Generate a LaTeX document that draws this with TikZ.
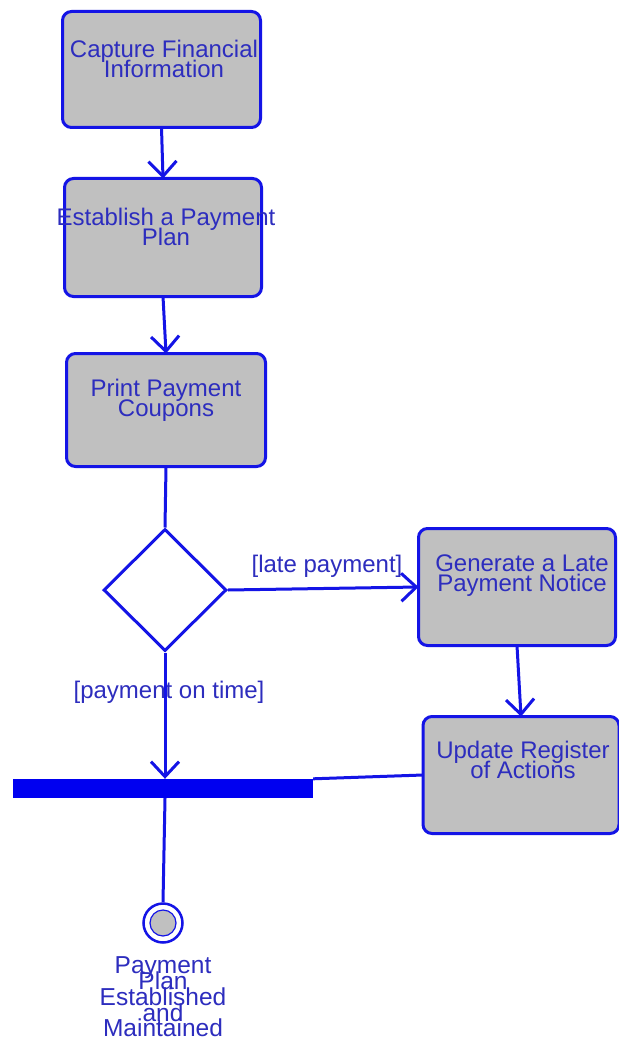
\documentclass[tikz,border=0pt]{standalone}
\usepackage{fontspec}
\setmainfont{Liberation Sans}
\usetikzlibrary{arrows.meta,shapes.geometric}
\definecolor{ln}{RGB}{20,20,230}
\definecolor{tx}{RGB}{45,45,190}
\definecolor{barc}{RGB}{0,0,240}
\definecolor{gy}{RGB}{192,192,192}
\newcommand\tightlines{\lineskiplimit=-100pt\relax\lineskip=0pt\relax}
\begin{document}
\begin{tikzpicture}[x=1pt,y=-1pt,
  actbox/.style={draw=ln,fill=gy,line width=3pt,rounded corners=9pt,inner sep=0pt,outer sep=0pt},
  txt/.style={text=tx,align=center,font=\fontsize{24}{20}\selectfont\tightlines,inner sep=0pt},
  conn/.style={draw=ln,line width=3pt},
  arr/.style={conn,-{Straight Barb[length=15pt,width=28pt]}},
]
\fill[white] (0,0) rectangle (618,1059);
\useasboundingbox (0,0) rectangle (618,1059);

\node[actbox,minimum width=198pt,minimum height=116pt] (b1) at (161.5,69.5) {};
\node[actbox,minimum width=197pt,minimum height=118pt] (b2) at (163,237.5) {};
\node[actbox,minimum width=199pt,minimum height=113pt] (b3) at (166,410) {};
\node[actbox,minimum width=197pt,minimum height=117pt] (b4) at (517,587) {};
\node[actbox,minimum width=196pt,minimum height=117pt] (b5) at (521,775) {};

\node[txt] (t1) at (164,59) {Capture Financial\\Information};
\node[txt] (t2) at (166,227) {Establish a Payment\\Plan};
\node[txt] (t3) at (166,400) {Print Payment\\Coupons};
\node[txt] (t4) at (522,576) {Generate a Late\\Payment Notice};
\node[txt] (t5) at (523,760) {Update Register\\of Actions};

\node[diamond,aspect=1,draw=ln,fill=white,line width=3pt,minimum width=123pt,minimum height=122pt,inner sep=0pt] (dia) at (165,590) {};

\node[fill=barc,minimum width=300pt,minimum height=19pt,inner sep=0pt] (bar) at (163,788.5) {};

\node[circle,draw=ln,fill=white,line width=2.5pt,minimum size=39pt,inner sep=0pt] (fin) at (163,923) {};
\node[circle,draw=ln,fill=gy,line width=1.2pt,minimum size=26pt,inner sep=0pt] (finin) at (fin) {};
\node[txt,font=\fontsize{24.5}{15.8}\selectfont\tightlines] (fl) at (163,997) {Payment\\Plan\\Established\\and\\Maintained};

\node[txt] (l1) at (327,566) {[late payment]};
\node[txt] (l2) at (169,692) {[payment on time]};

\draw[arr] (b1.south) -- (b2.north);
\draw[arr] (b2.south) -- (b3.north);
\draw[conn] (b3.south) -- (dia.north);
\draw[arr] (dia.east) -- (b4.west);
\draw[arr] (dia.south) -- (dia.south |- bar.north);
\draw[arr] (b4.south) -- (b5.north);
\draw[conn] (b5.west) -- (bar.north east);
\draw[conn] (dia.south |- bar.south) -- (fin.north);
\end{tikzpicture}
\end{document}
